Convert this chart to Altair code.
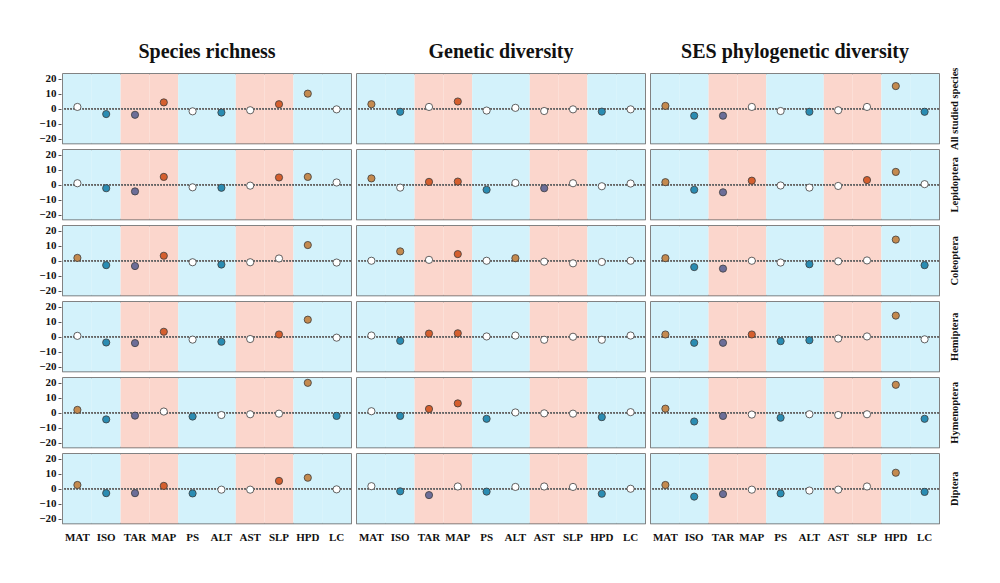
import altair as alt
import pandas as pd

variables = ["MAT", "ISO", "TAR", "MAP", "PS", "ALT", "AST", "SLP", "HPD", "LC"]
bg_group = ["B", "B", "R", "R", "B", "B", "R", "R", "B", "B"]
measures = ["Species richness", "Genetic diversity", "SES phylogenetic diversity"]
taxa = ["All studied species", "Lepidoptera", "Coleoptera", "Hemiptera", "Hymenoptera", "Diptera"]
y_ticks = [-20, -10, 0, 10, 20]

# values per measure, per taxon (order of variables)
sr_vals = [
    [1.2, -3.5, -4.0, 4.2, -1.7, -2.5, -1.0, 3.0, 10.0, -0.4],
    [1.0, -2.3, -4.4, 5.2, -1.7, -2.0, -0.6, 4.8, 5.2, 1.5],
    [1.9, -2.9, -3.5, 3.3, -1.0, -2.5, -1.0, 1.5, 10.4, -1.2],
    [0.6, -3.8, -4.2, 3.3, -1.9, -3.3, -1.5, 1.5, 11.3, -0.6],
    [1.9, -4.4, -1.9, 0.8, -2.5, -1.5, -1.0, -0.6, 19.8, -2.1],
    [2.5, -2.9, -2.9, 1.9, -3.1, -0.6, -0.6, 5.2, 7.3, -0.4],
]
gd_vals = [
    [3.0, -2.0, 1.2, 4.8, -1.2, 0.6, -1.5, -0.4, -1.9, -0.4],
    [4.2, -1.9, 1.9, 2.1, -3.3, 1.2, -2.3, 1.0, -1.0, 0.8],
    [0.0, 6.2, 0.6, 4.4, 0.0, 1.7, -0.6, -1.7, -0.8, 0.0],
    [0.8, -2.7, 2.1, 2.3, 0.2, 0.8, -2.0, 0.0, -2.0, 0.8],
    [1.0, -2.1, 2.5, 6.2, -4.0, 0.2, -0.4, -0.6, -2.9, 0.4],
    [1.7, -1.7, -4.2, 1.5, -1.9, 1.2, 1.5, 1.2, -3.3, 0.0],
]
ses_vals = [
    [1.9, -4.6, -4.6, 1.2, -1.5, -2.0, -1.0, 1.2, 15.0, -2.0],
    [1.7, -3.3, -5.0, 2.7, -0.5, -1.9, -0.8, 3.1, 8.5, 0.4],
    [1.7, -4.2, -5.2, 0.0, -1.2, -2.3, -0.4, 0.2, 14.0, -2.9],
    [1.5, -4.0, -4.0, 1.5, -2.9, -2.3, -1.2, 0.2, 14.0, -1.7],
    [2.7, -5.8, -2.1, -1.2, -3.3, -1.0, -1.5, -1.0, 18.5, -4.0],
    [2.5, -5.2, -3.5, -0.6, -3.1, -1.2, -0.6, 1.5, 10.6, -2.1],
]
# significance: p = significant positive, n = significant negative, . = not significant
sr_sig = [".nnp.n.pp.", ".nnp.n.pp.", "pnnp.n..p.", ".nnp.n.pp.", "pnn.n...pn", "pnnpn..pp."]
gd_sig = ["pn.p....n.", "p.ppn.n...", ".p.p.p....", ".npp......", ".nppn...n.", ".nn.n...n."]
ses_sig = ["pnn..n..pn", "pnnp...pp.", "pnn..n..pn", "pnnpnn..p.", "pnn.n...pn", "pnn.n...pn"]

all_vals = [sr_vals, gd_vals, ses_vals]
all_sig = [sr_sig, gd_sig, ses_sig]

rows = []
for mi, m in enumerate(measures):
    for ti, t in enumerate(taxa):
        for vi, v in enumerate(variables):
            s = all_sig[mi][ti][vi]
            g = bg_group[vi]
            if s == ".":
                cls = "ns"
            elif s == "p":
                cls = "tan" if g == "B" else "red"
            else:
                cls = "blue" if g == "B" else "purple"
            rows.append({"measure": m, "taxon": t, "var": v, "value": all_vals[mi][ti][vi],
                         "cls": cls, "bg": "bg" + g})
df = pd.DataFrame(rows)

PH = 69.5

color_scale = alt.Scale(
    domain=["bgB", "bgR", "tan", "red", "blue", "purple", "ns"],
    range=["#d3f2fb", "#fbd6cc", "#c48a4f", "#d55f2e", "#2a8cb2", "#6c6e98", "#ffffff"],
)
xenc = alt.X("var:N", sort=variables, title=None,
             scale=alt.Scale(paddingInner=0, paddingOuter=0),
             axis=alt.Axis(labelAngle=0, ticks=False, domain=False, labelPadding=6,
                           labelFont="Liberation Serif", labelFontSize=11,
                           labelFontWeight="bold", labelColor="#111"))
yscale = alt.Scale(domain=[-23, 23], nice=False)
yaxis = alt.Axis(values=y_ticks, grid=False, domain=False,
                 labelOverlap=False, labelFlush=False, labelPadding=2,
                 tickSize=3, labelFont="Liberation Serif", labelFontSize=11,
                 labelFontWeight="bold", labelColor="#111", tickColor="#555")

base = alt.Chart(df)
bgl = base.mark_rect().encode(
    x=xenc, y=alt.value(0), y2=alt.value(PH),
    color=alt.Color("bg:N", scale=color_scale, legend=None),
)
zero = base.mark_rule(color="#666", strokeDash=[1.5, 1.5], strokeWidth=0.9).encode(
    y=alt.datum(0, scale=yscale, axis=yaxis)
)
pts = base.mark_circle(size=52, opacity=1, stroke="#3c3c3c", strokeWidth=0.8).encode(
    x=xenc,
    y=alt.Y("value:Q", scale=yscale, title=None, axis=yaxis),
    color=alt.Color("cls:N", scale=color_scale, legend=None),
)

chart = alt.layer(bgl, zero, pts).properties(width=288, height=PH).facet(
    column=alt.Column("measure:N", sort=measures, title=None,
                      header=alt.Header(labelFont="Liberation Serif", labelFontSize=20,
                                        labelFontWeight="bold", labelColor="#111",
                                        labelPadding=11)),
    row=alt.Row("taxon:N", sort=taxa, title=None,
                header=alt.Header(labelFont="Liberation Serif", labelFontSize=10.5,
                                  labelFontWeight="bold", labelColor="#111",
                                  labelOrient="right", labelAngle=270, labelPadding=8)),
    spacing={"row": 3, "column": 2},
).configure_view(
    stroke="#5a5a5a", strokeWidth=1.5
).configure_axis(
    labelOverlap=False
).properties(
    padding={"left": 30, "top": 34, "right": 5, "bottom": 5}
)

chart.save("out.html", embed_options={"renderer": "svg", "actions": False})
